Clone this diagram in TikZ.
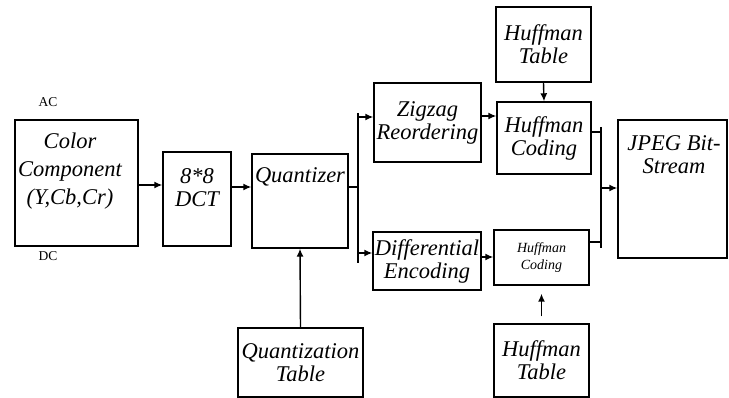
\documentclass[tikz,border=0pt]{standalone}
\usepackage{fontspec}
\setmainfont{Liberation Serif}
\usetikzlibrary{arrows.meta, positioning, calc}

\newcommand{\boxfont}{\fontsize{22.5}{23}\selectfont\itshape}

\begin{document}
\begin{tikzpicture}[x=1pt, y=-1pt, >={Latex[length=8pt, width=7pt]},
  block/.style={draw, line width=1.4pt, inner sep=0pt, align=center, font=\boxfont},
  txt/.style={align=center, inner sep=0pt, font=\boxfont},
  flow/.style={->, line width=1.4pt},
  wire/.style={line width=1.4pt},
  tag/.style={font=\fontsize{13.5}{14}\selectfont, inner sep=0pt}
]
\useasboundingbox (0,0) rectangle (729,398);

% blocks
\node[block, minimum width=123pt, minimum height=126pt] (color) at (76.5,183) {};
\node[block, minimum width=68pt, minimum height=94pt]   (dct)   at (197,199)  {};
\node[block, minimum width=96pt, minimum height=94pt]   (quant) at (300,201)  {};
\node[block, minimum width=107pt, minimum height=79pt]  (zig)   at (427.5,122.5) {Zigzag\\Reordering};
\node[block, minimum width=108pt, minimum height=58pt]  (diff)  at (427,261)  {Differential\\Encoding};
\node[block, minimum width=95pt, minimum height=75pt]   (huftop)  at (543.5,44.5) {Huffman\\Table};
\node[block, minimum width=94pt, minimum height=72pt]   (hufac)   at (544,138)  {Huffman\\Coding};
\node[block, minimum width=95pt, minimum height=55pt, font=\fontsize{14}{16.5}\selectfont\itshape] (hufdc) at (541.5,257.5) {Huffman\\Coding};
\node[block, minimum width=95pt, minimum height=73pt]   (hufbot)  at (541.5,360.5) {Huffman\\Table};
\node[block, minimum width=109pt, minimum height=138pt] (jpeg)  at (672.5,189) {};
\node[block, minimum width=125pt, minimum height=69pt]  (qtab)  at (300.5,362.5) {Quantization\\Table};

% texts near the top of the tall blocks
\node[txt, font=\fontsize{22.5}{28}\selectfont\itshape] (color-txt) at (70,171) {Color\\Component\\(Y,Cb,Cr)};
\node[txt] (dct-txt)   at (197,188) {8*8\\DCT};
\node[txt] (quant-txt) at (300,177) {Quantizer};
\node[txt] (jpeg-txt)  at (674,155) {JPEG Bit-\\Stream};
\node[tag] (ac) at (48,102) {AC};
\node[tag] (dc) at (48,256) {DC};

% split and join points
\coordinate (split) at (358,187);
\coordinate (join)  at (601,188);

\draw[flow] (color.east |- 0,185) -- (dct.west |- 0,185);
\draw[flow] (dct.east |- 0,187) -- (quant.west |- 0,187);
\draw[wire] (quant.east |- split) -- (split);
\draw[wire] (split |- 0,113) -- (split |- 0,263);
\draw[flow] (split |- 0,117) -- (zig.west |- 0,117);
\draw[flow] (split |- 0,253) -- (diff.west |- 0,253);
\draw[flow] (qtab.north) -- (quant.south);

\draw[flow] (zig.east |- 0,116) -- (hufac.west |- 0,116);
\draw[flow] (diff.east |- 0,257) -- (hufdc.west |- 0,257);
\draw[flow] (huftop.south) -- (hufac.north);
\draw[flow, shorten <=7pt, shorten >=8pt] (hufbot.north) -- (hufdc.south);

\draw[wire] (hufac.east |- 0,132) -- (join |- 0,132);
\draw[wire] (hufdc.east |- 0,242) -- (join |- 0,242);
\draw[wire] (join |- 0,127) -- (join |- 0,248);
\draw[flow] (join) -- (jpeg.west |- join);
\end{tikzpicture}
\end{document}
